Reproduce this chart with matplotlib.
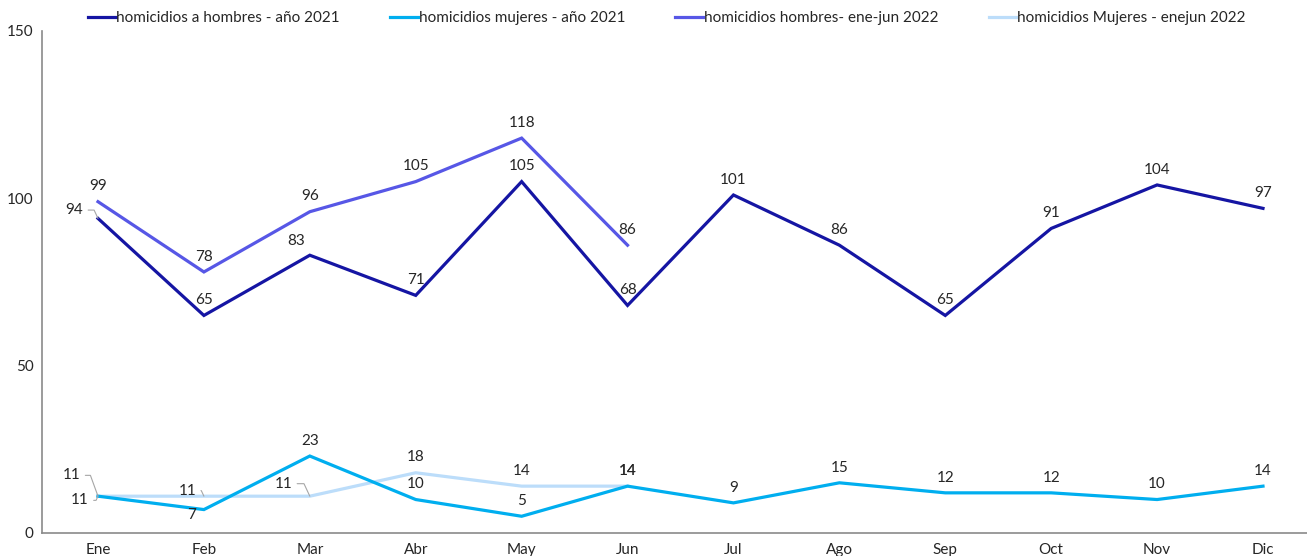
import matplotlib
matplotlib.use("Agg")
import matplotlib.pyplot as plt
from matplotlib.lines import Line2D

plt.rcParams['font.family'] = ['Lato', 'DejaVu Sans']

months = ["Ene", "Feb", "Mar", "Abr", "May", "Jun", "Jul", "Ago", "Sep", "Oct", "Nov", "Dic"]
hombres_2021 = [94, 65, 83, 71, 105, 68, 101, 86, 65, 91, 104, 97]
mujeres_2021 = [11, 7, 23, 10, 5, 14, 9, 15, 12, 12, 10, 14]
hombres_2022 = [99, 78, 96, 105, 118, 86]
mujeres_2022 = [11, 11, 11, 18, 14, 14]
series_names = ["homicidios a hombres - año 2021", "homicidios mujeres - año 2021",
                "homicidios hombres- ene-jun 2022", "homicidios Mujeres - enejun 2022"]
yticks = [0, 50, 100, 150]

colors = ["#1515A3", "#00AEEF", "#5757E6", "#BCDDFA"]

W, H = 1307, 556
FS = 11
fig = plt.figure(figsize=(W / 100, H / 100), dpi=100)
ax = fig.add_axes([42 / W, 1 - 533 / H, 1 - 42 / W, (533 - 31) / H])

series = [hombres_2021, mujeres_2021, hombres_2022, mujeres_2022]
order = [3, 1, 2, 0]
for i in order:
    vals = series[i]
    ax.plot(range(len(vals)), vals, color=colors[i], lw=2.3, solid_joinstyle='miter',
            zorder=3 + (i % 2 == 0))

step = (1263 - 98) / 11
ax.set_xlim(-(98 - 42) / step, (W - 98) / step)
ax.set_ylim(0, 150)
ax.set_xticks(range(len(months)))
ax.set_xticklabels(months)
ax.set_yticks(yticks)
ax.tick_params(axis='both', length=0, labelsize=FS, colors='#262626')
ax.tick_params(axis='x', pad=7)
ax.tick_params(axis='y', pad=6)
for s in ['top', 'right']:
    ax.spines[s].set_visible(False)
for s in ['left', 'bottom']:
    ax.spines[s].set_color('#8a8a8a')
    ax.spines[s].set_linewidth(1.2)


def label(x, y, dx=0, dy=11, leader=None):
    kw = dict(textcoords='offset points', ha='center', va='center', fontsize=FS,
              color='#262626', zorder=6)
    if leader is not None:
        kw['arrowprops'] = dict(arrowstyle='-', color='#a6a6a6', lw=0.8, shrinkA=1.5, shrinkB=0,
                                relpos=(1, 0.5),
                                connectionstyle=f"angle,angleA=0,angleB={leader},rad=0")
    ax.annotate(str(y), xy=(x, y), xytext=(dx, dy), **kw)


special_h21 = {0: (-17, 6, 115), 2: (-10, 10, None)}
for i, v in enumerate(hombres_2021):
    dx, dy, ld = special_h21.get(i, (0, 11, None))
    label(i, v, dx, dy, ld)

special_m21 = {0: (-13, -3, 65), 1: (-9, -4, None)}
for i, v in enumerate(mujeres_2021):
    dx, dy, ld = special_m21.get(i, (0, 11, None))
    label(i, v, dx, dy, ld)

for i, v in enumerate(hombres_2022):
    label(i, v, 0, 11)

special_m22 = {0: (-19, 15, 110), 1: (-12, 4, 115), 2: (-19, 9, 115)}
for i, v in enumerate(mujeres_2022):
    dx, dy, ld = special_m22.get(i, (0, 11, None))
    label(i, v, dx, dy, ld)

handles = [Line2D([], [], color=c, lw=2.3) for c in colors]
fig.legend(handles, series_names, loc='center left', bbox_to_anchor=(88 / W, 1 - 18 / H),
           frameon=False, ncol=4, fontsize=FS, handlelength=1.8, handletextpad=0.05,
           columnspacing=3.3, borderpad=0, borderaxespad=0, labelcolor='#262626')

fig.savefig("out.png", dpi=100)
